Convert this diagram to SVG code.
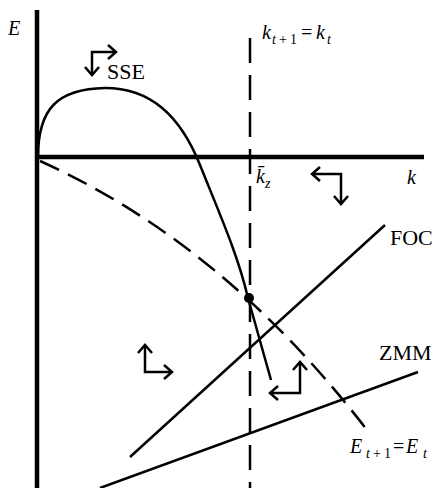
<svg xmlns="http://www.w3.org/2000/svg" width="436" height="488" viewBox="0 0 436 488">
<style>
.ln{fill:none;stroke:#000;stroke-width:2.5;stroke-linecap:butt}
.dash{stroke-dasharray:25 12}
.dc{stroke-dasharray:21 10}
.ax{stroke:#000;stroke-width:4.5}
.arr{fill:none;stroke:#000;stroke-width:2.5;marker-start:url(#ah);marker-end:url(#ah)}
text{font-family:"Liberation Serif","Times New Roman",serif;fill:#000}
.it{font-style:italic}
.lab{font-size:22px}
.m{font-size:20px}
.s{font-size:14px}
</style>
<defs>
<marker id="ah" viewBox="-10 -9 12 18" refX="0" refY="0" markerWidth="12" markerHeight="18" markerUnits="userSpaceOnUse" orient="auto-start-reverse">
<path d="M-8,-7 L0,0 L-8,7" fill="none" stroke="#000" stroke-width="2.5"/>
</marker>
</defs>
<rect width="436" height="488" fill="#fff"/>
<g id="axes">
<line class="ax" x1="37" y1="10" x2="37" y2="488"/>
<line class="ax" x1="35" y1="157" x2="424" y2="157"/>
<text class="it m" x="8" y="35">E</text>
<text class="it m" x="407" y="184">k</text>
</g>
<g id="curves">
<line class="ln dash" x1="250" y1="38" x2="250" y2="488"/>
<path class="ln" d="M38,157 C38,108 58,89 105,88 C150,88 180,115 200,165 C220,215 238,255 248,298 L271,380"/>
<path class="ln dc" d="M40,161 Q223.8,243.8 367,430"/>
<line class="ln" x1="130" y1="457" x2="385" y2="225"/>
<line class="ln" x1="100" y1="488" x2="418" y2="372"/>
<circle cx="249" cy="298" r="5" fill="#000"/>
</g>
<g id="arrows">
<path class="arr" d="M92,75 L92,52 L116,52"/>
<path class="arr" d="M312,174 L341,174 L341,204"/>
<path class="arr" d="M145,345 L145,372 L172,372"/>
<path class="arr" d="M270,393 L300,393 L300,362"/>
</g>
<g id="labels">
<text class="lab" x="107" y="79">SSE</text>
<text class="lab" x="390" y="245">FOC</text>
<text class="lab" x="379" y="360">ZMM</text>
<text class="m"><tspan class="it" x="262" y="39">k</tspan><tspan class="it s" x="272" y="44">t</tspan><tspan class="s" x="279" y="44">+</tspan><tspan class="s" x="290" y="44">1</tspan><tspan x="301" y="39">=</tspan><tspan class="it" x="316" y="39">k</tspan><tspan class="it s" x="327" y="44">t</tspan></text>
<text class="m"><tspan class="it" x="256" y="183">k̄</tspan><tspan class="it s" x="265" y="188">z</tspan></text>
<text class="m"><tspan class="it" x="350" y="453">E</tspan><tspan class="it s" x="366" y="458">t</tspan><tspan class="s" x="373" y="458">+</tspan><tspan class="s" x="384" y="458">1</tspan><tspan x="393" y="453">=</tspan><tspan class="it" x="406" y="453">E</tspan><tspan class="it s" x="423" y="458">t</tspan></text>
</g>
</svg>
